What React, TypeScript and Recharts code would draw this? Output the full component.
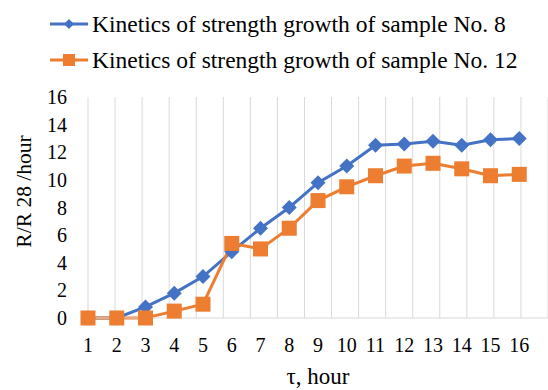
import React from 'react';
import { LineChart, Line, XAxis, YAxis, CartesianGrid, Legend, Label } from 'recharts';

// hours; the last empty slot is the blank band on the right of the plot
const hours = ['1', '2', '3', '4', '5', '6', '7', '8', '9', '10', '11', '12', '13', '14', '15', '16', ''];
const sample8 = [0, 0, 0.8, 1.8, 3.0, 4.8, 6.5, 8.0, 9.8, 11.0, 12.5, 12.6, 12.8, 12.5, 12.9, 13.0];
const sample12 = [0, 0, 0, 0.5, 1.0, 5.4, 5.0, 6.5, 8.5, 9.5, 10.3, 11.0, 11.2, 10.8, 10.3, 10.4];
const yTicks = [0, 2, 4, 6, 8, 10, 12, 14, 16];

const SERIES = [
  { key: 's8', name: 'Kinetics of strength growth of sample No. 8', color: '#4472C4', marker: 'diamond' },
  { key: 's12', name: 'Kinetics of strength growth of sample No. 12', color: '#ED7D31', marker: 'square' },
];

const data = hours.map((h, i) => ({
  t: h,
  s8: i < sample8.length ? sample8[i] : null,
  s12: i < sample12.length ? sample12[i] : null,
}));

const FONT = "'Liberation Serif', 'DejaVu Serif', 'Noto Serif', Tinos, 'Times New Roman', serif";

const Diamond = (props: any) => {
  const { cx, cy, color } = props;
  if (cx == null || cy == null) return null;
  const r = 7.5;
  return <polygon points={`${cx},${cy - r} ${cx + r},${cy} ${cx},${cy + r} ${cx - r},${cy}`} fill={color} />;
};

const Square = (props: any) => {
  const { cx, cy, color } = props;
  if (cx == null || cy == null) return null;
  const s = 7.5;
  return <rect x={cx - s} y={cy - s} width={s * 2} height={s * 2} fill={color} />;
};

const LegendBox = () => (
  <div style={{ height: 97, paddingTop: 6, boxSizing: 'border-box', fontFamily: FONT, fontSize: 23.5, color: '#000' }}>
    {SERIES.map((s) => (
      <div key={s.key} style={{ display: 'flex', alignItems: 'center', height: 36, paddingLeft: 50 }}>
        <svg width={38} height={14} style={{ marginRight: 4, flex: 'none' }}>
          <line x1={0} y1={7} x2={38} y2={7} stroke={s.color} strokeWidth={3} />
          {s.marker === 'diamond' ? (
            <polygon points="19,2 24,7 19,12 14,7" fill={s.color} />
          ) : (
            <rect x={13} y={1} width={12} height={12} fill={s.color} />
          )}
        </svg>
        <span style={{ whiteSpace: 'nowrap' }}>{s.name}</span>
      </div>
    ))}
  </div>
);

const YTitle = (props: any) => {
  const { viewBox } = props;
  const cx = viewBox.x + 23.5;
  const cy = viewBox.y + viewBox.height / 2 - 16;
  return (
    <text x={cx} y={cy} transform={`rotate(-90, ${cx}, ${cy})`} textAnchor="middle" dominantBaseline="central"
      style={{ fontFamily: FONT, fontSize: 21.5 }} fill="#000">
      R/R 28 /hour
    </text>
  );
};

const tickStyle = { fill: '#000', fontSize: 20, fontFamily: FONT };

export default function App() {
  return (
    <div style={{ position: 'absolute', left: 0, top: 0, background: '#fff', fontFamily: FONT }}>
      <LineChart width={548} height={390} data={data} margin={{ top: 0, right: 0, bottom: 0, left: 0 }}>
        <CartesianGrid
          horizontal={false}
          stroke="#D9D9D9"
          verticalCoordinatesGenerator={({ offset }: any) =>
            Array.from({ length: hours.length + 1 }, (_, i) => offset.left + (i * offset.width) / hours.length)
          }
        />
        <XAxis
          dataKey="t"
          interval={0}
          height={72}
          axisLine={{ stroke: '#D9D9D9' }}
          tickLine={false}
          tickSize={0}
          tickMargin={20}
          tick={tickStyle}
        >
          <Label value="τ, hour" position="insideBottom" offset={6} fill="#000" fontSize={23} fontFamily={FONT} />
        </XAxis>
        <YAxis
          width={88}
          domain={[0, 16]}
          ticks={yTicks}
          interval={0}
          axisLine={false}
          tickLine={false}
          tickSize={0}
          tickMargin={21}
          tick={tickStyle}
        >
          <Label content={<YTitle />} />
        </YAxis>
        <Legend verticalAlign="top" align="left" layout="horizontal" content={<LegendBox />} wrapperStyle={{ top: 0, left: 0 }} />
        {SERIES.map((s) => (
          <Line
            key={s.key}
            dataKey={s.key}
            name={s.name}
            stroke={s.color}
            strokeWidth={3}
            dot={s.marker === 'diamond' ? <Diamond color={s.color} /> : <Square color={s.color} />}
            activeDot={false}
            isAnimationActive={false}
          />
        ))}
      </LineChart>
    </div>
  );
}
